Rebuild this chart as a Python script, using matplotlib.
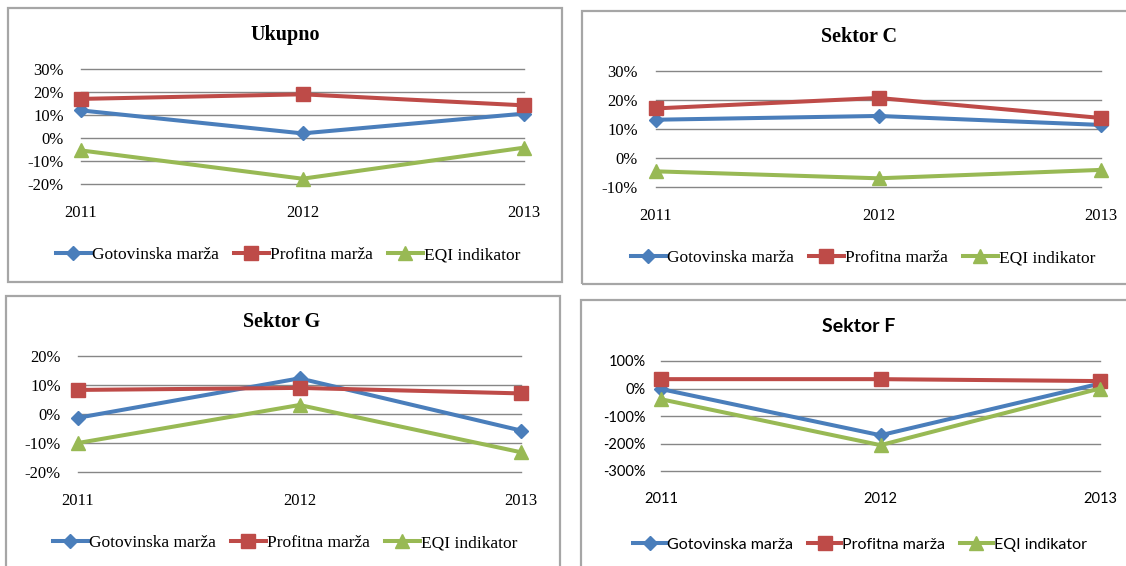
import matplotlib
matplotlib.use("Agg")
import matplotlib.pyplot as plt
from matplotlib.patches import Rectangle
from matplotlib.ticker import FixedLocator, FuncFormatter

W, H = 1126, 566

years = ["2011", "2012", "2013"]
series_names = ["Gotovinska marža", "Profitna marža", "EQI indikator"]

# values in percent
ukupno_got = [12.0, 2.0, 10.6]
ukupno_prof = [17.0, 19.0, 14.2]
ukupno_eqi = [-5.4, -17.7, -4.2]

sektorC_got = [13.2, 14.5, 11.4]
sektorC_prof = [17.1, 20.7, 13.8]
sektorC_eqi = [-4.6, -7.0, -4.1]

sektorG_got = [-1.3, 12.3, -5.7]
sektorG_prof = [8.3, 9.0, 7.1]
sektorG_eqi = [-10.0, 3.1, -13.2]

sektorF_got = [-2.0, -170.0, 18.0]
sektorF_prof = [34.0, 34.0, 27.0]
sektorF_eqi = [-39.0, -206.0, 0.0]

ticks_ukupno = [-20, -10, 0, 10, 20, 30]
ticks_C = [-10, 0, 10, 20, 30]
ticks_G = [-20, -10, 0, 10, 20]
ticks_F = [-300, -200, -100, 0, 100]

colors = ["#4A7EBB", "#BE4B48", "#98B954"]
markers = ["D", "s", "^"]
msizes = [7.5, 9.5, 10]

fig = plt.figure(figsize=(W / 100, H / 100), dpi=100)
fig.patch.set_facecolor("white")


def frac_rect(x0, y0, x1, y1):
    return [x0 / W, 1 - y1 / H, (x1 - x0) / W, (y1 - y0) / H]


def box(x0, y0, x1, y1):
    r = Rectangle((x0 / W, 1 - y1 / H), (x1 - x0) / W, (y1 - y0) / H,
                  transform=fig.transFigure, fill=False,
                  edgecolor="#a6a6a6", linewidth=1.6, zorder=0)
    fig.patches.append(r)


def panel(rect_px, title, title_xy, series, ticks, font, fsize, tsize,
          legend_xy, lsize, ypad, xpad, hl, cs):
    ax = fig.add_axes(frac_rect(*rect_px))
    x = list(range(len(years)))
    for t in ticks:
        ax.axhline(t, color="#868686", lw=1.0, zorder=1, clip_on=False)
    for vals, c, m, ms, name in zip(series, colors, markers, msizes, series_names):
        ax.plot(x, vals, color=c, lw=2.9, marker=m, ms=ms, mec=c, mfc=c,
                label=name, clip_on=False, zorder=3)
    ax.set_xlim(0, len(years) - 1)
    ax.set_ylim(min(ticks), max(ticks))
    ax.yaxis.set_major_locator(FixedLocator(ticks))
    ax.yaxis.set_major_formatter(FuncFormatter(lambda v, p: f"{int(round(v))}%"))
    ax.set_xticks(x)
    ax.set_xticklabels(years)
    for s in ax.spines.values():
        s.set_visible(False)
    ax.grid(False)
    ax.patch.set_alpha(0)
    ax.tick_params(axis="y", length=0, pad=ypad, labelsize=fsize)
    ax.tick_params(axis="x", length=0, pad=xpad, labelsize=fsize)
    for lab in ax.get_xticklabels() + ax.get_yticklabels():
        lab.set_fontfamily(font)
    fig.text(title_xy[0] / W, 1 - title_xy[1] / H, title, ha="center", va="center",
             fontsize=tsize, fontweight="bold", fontfamily=font)
    ax.legend(loc="center", bbox_to_anchor=(legend_xy[0] / W, 1 - legend_xy[1] / H),
              bbox_transform=fig.transFigure, ncol=3, frameon=False,
              prop={"family": font, "size": lsize}, handlelength=hl,
              handletextpad=0.05, columnspacing=cs, borderpad=0, borderaxespad=0)
    return ax


# panel borders
box(8, 8, 562, 282)
box(582, 11, 1140, 284)
box(6, 296, 560, 580)
box(581, 300, 1140, 580)

serif = "Liberation Serif"
sans = "Lato"

panel((81, 69, 524, 184), "Ukupno", (285, 35),
      [ukupno_got, ukupno_prof, ukupno_eqi], ticks_ukupno, serif, 12, 14.5,
      (288, 255), 12.5, 12.5, 15, 2.0, 0.9)
panel((656, 71, 1101, 187), "Sektor C", (859, 37),
      [sektorC_got, sektorC_prof, sektorC_eqi], ticks_C, serif, 12, 14.5,
      (863, 258), 12.5, 13, 15, 2.0, 0.9)
panel((78, 356, 521, 472), "Sektor G", (282, 322),
      [sektorG_got, sektorG_prof, sektorG_eqi], ticks_G, serif, 12, 14.5,
      (285, 543), 12.5, 12.5, 15, 2.0, 0.9)
panel((661, 361, 1100, 471), "Sektor F", (859, 327),
      [sektorF_got, sektorF_prof, sektorF_eqi], ticks_F, sans, 10.5, 14,
      (860, 545), 11.5, 11, 15, 2.1, 0.9)

fig.savefig("out.png", dpi=100, facecolor="white")
